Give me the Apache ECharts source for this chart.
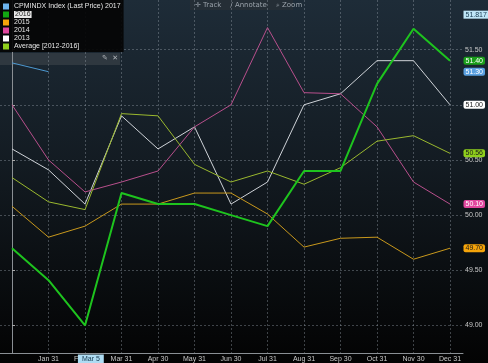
<!DOCTYPE html>
<html><head><meta charset="utf-8">
<script src="https://cdn.jsdelivr.net/npm/echarts@6/dist/echarts.min.js"></script>
<style>html,body{margin:0;padding:0;background:#000}#c{width:488px;height:363px}</style>
</head><body><div id="c"></div>
<script>
// period ends (index 0 = prior Dec 31)
const periodEnds = ['Dec 31','Jan 31','Feb 28','Mar 31','Apr 30','May 31','Jun 30','Jul 31','Aug 31','Sep 30','Oct 31','Nov 30','Dec 31'];
const monthTicks = [1,2,3,4,5,6,7,8,9,10,11,12];
const yTicks = [49.0, 49.5, 50.0, 50.5, 51.0, 51.5];

const s2017 = [51.38, 51.30];
const s2016 = [49.70, 49.41, 49.00, 50.20, 50.10, 50.10, 50.00, 49.90, 50.40, 50.40, 51.19, 51.69, 51.40];
const s2015 = [50.08, 49.80, 49.90, 50.10, 50.10, 50.20, 50.20, 50.01, 49.71, 49.79, 49.80, 49.60, 49.70];
const s2014 = [51.00, 50.50, 50.21, 50.30, 50.40, 50.80, 51.00, 51.70, 51.11, 51.10, 50.80, 50.30, 50.10];
const s2013 = [50.60, 50.41, 50.10, 50.90, 50.60, 50.80, 50.10, 50.30, 51.00, 51.10, 51.40, 51.40, 51.00];
const sAvg  = [50.34, 50.12, 50.05, 50.92, 50.90, 50.46, 50.30, 50.40, 50.28, 50.43, 50.67, 50.72, 50.56];

const cursorPos = 2.16;      // Mar 5
const cursorDate = 'Mar 5';
const cursorValue = 51.817;

const X_MIN = -0.329, X_MAX = 12.356, Y_MIN = 48.75, Y_MAX = 51.95;
const FONT = 'Liberation Sans, Arial, sans-serif';

const names = ['CPMINDX Index (Last Price) 2017','2016','2015','2014','2013','Average [2012-2016]'];
const legendColors = {
  'CPMINDX Index (Last Price) 2017':'#6cb4ee','2016':'#12a812','2015':'#f5a40a',
  '2014':'#e0479e','2013':'#ffffff','Average [2012-2016]':'#8fcf1c'
};
const lineColors = {
  'CPMINDX Index (Last Price) 2017':'#4d98d0','2016':'#1ec41e','2015':'#c8981c',
  '2014':'#b84f8c','2013':'#cfd3d8','Average [2012-2016]':'#9ab82e'
};
const tagStyle = {
  'CPMINDX Index (Last Price) 2017':{bg:'#5aa0e0',fg:'#ffffff'},
  '2016':{bg:'#1a9e1a',fg:'#ffffff'},
  '2015':{bg:'#f5a40a',fg:'#1a1a1a'},
  '2014':{bg:'#e0479e',fg:'#ffffff'},
  '2013':{bg:'#ffffff',fg:'#1a1a1a'},
  'Average [2012-2016]':{bg:'#8fcf1c',fg:'#1a1a1a'}
};

function mk(name, arr, width, z) {
  const last = arr[arr.length-1];
  const t = tagStyle[name];
  return {
    name, type:'line', data: arr.map((v,i)=>[i,v]), symbol:'none', z,
    color: legendColors[name],
    lineStyle:{color: lineColors[name], width},
    emphasis:{disabled:true},
    markPoint:{
      symbol:'rect', symbolSize:1, itemStyle:{color:'rgba(0,0,0,0)'}, silent:true,
      data:[{coord:[X_MAX,last], value:last}],
      label:{show:true, position:'right', distance:0, formatter: last.toFixed(2),
        backgroundColor:t.bg, color:t.fg, fontSize:7, fontFamily:FONT,
        padding:[1,2,0,2], borderRadius:2}
    }
  };
}

const chart = echarts.init(document.getElementById('c'));
chart.setOption({
  animation:false,
  backgroundColor:{type:'linear',x:0,y:0,x2:0,y2:1,colorStops:[
    {offset:0,color:'#1e2c38'},{offset:0.45,color:'#131b22'},{offset:1,color:'#030303'}]},
  grid:{left:0,right:25,top:0,bottom:10,containLabel:false},
  xAxis:{type:'value',min:X_MIN,max:X_MAX,
    axisLine:{show:true,lineStyle:{color:'#8a8f94',width:1}},
    axisTick:{show:false,customValues:monthTicks},
    axisLabel:{customValues:monthTicks,formatter:v=>periodEnds[v],color:'#c8c8c8',fontSize:7,fontFamily:FONT,margin:3},
    splitLine:{show:true,lineStyle:{color:'rgba(150,160,170,0.4)',type:[2,2],width:1}}
  },
  yAxis:{type:'value',position:'right',min:Y_MIN,max:Y_MAX,
    axisLine:{show:true,lineStyle:{color:'#8a8f94'}},
    axisTick:{show:true,length:3,customValues:yTicks,lineStyle:{color:'#aaa'}},
    axisLabel:{customValues:yTicks,formatter:v=>v.toFixed(2),color:'#c8c8c8',fontSize:7,fontFamily:FONT,margin:2},
    splitLine:{show:true,lineStyle:{color:'rgba(150,160,170,0.4)',type:[2,2],width:1}}
  },
  legend:{
    data:names, orient:'vertical', left:0, top:0, icon:'rect', itemWidth:6, itemHeight:6, itemGap:1,
    padding:[3,3,2,3], backgroundColor:'rgba(4,4,4,0.92)', selectedMode:false,
    textStyle:{color:'#e6e6e6',fontSize:7,fontFamily:FONT,
      rich:{h:{backgroundColor:'#e8e8e8',color:'#222',fontSize:7,fontFamily:FONT,padding:[0,1]}}},
    formatter:n=> n==='2016' ? '{h|2016}' : n
  },
  graphic:[
    {type:'group',left:0,top:53,z:100,children:[
      {type:'rect',shape:{x:0,y:0,width:120,height:12},style:{fill:'rgba(55,63,70,0.75)'}},
      {type:'text',x:102,y:2,style:{text:'✎  ✕',fill:'#b0b4b8',fontSize:7,fontFamily:'DejaVu Sans'}}
    ]},
    {type:'group',left:190,top:0,z:100,children:[
      {type:'rect',shape:{x:0,y:0,width:103,height:10},style:{fill:'rgba(38,46,54,0.95)'}},
      {type:'text',x:5,y:1.5,style:{text:'✛ Track    ∕ Annotate    ⌕ Zoom',fill:'#9aa2aa',fontSize:7,fontFamily:'DejaVu Sans'}}
    ]}
  ],
  series:[
    mk('2013', s2013, 1, 2),
    mk('2014', s2014, 1, 2),
    mk('2015', s2015, 1, 2),
    mk('Average [2012-2016]', sAvg, 1, 2),
    mk('CPMINDX Index (Last Price) 2017', s2017, 1, 3),
    mk('2016', s2016, 2, 4),
    {type:'line', data:[], silent:true, z:10,
     markPoint:{symbol:'rect',symbolSize:1,itemStyle:{color:'rgba(0,0,0,0)'},silent:true,
       data:[
        {coord:[X_MAX,cursorValue],value:cursorValue,
         label:{show:true,position:'right',distance:0,formatter:cursorValue.toFixed(3),
           backgroundColor:'#bfe6f7',color:'#16384d',fontSize:7,fontFamily:FONT,padding:[1,2,0,2]}},
        {coord:[cursorPos,Y_MIN],value:0,
         label:{show:true,position:'bottom',distance:1,formatter:cursorDate,
           backgroundColor:'#aedcf3',color:'#16384d',fontSize:7,fontFamily:FONT,padding:[1,4,1,4]}}
       ]}}
  ]
});
</script></body></html>
